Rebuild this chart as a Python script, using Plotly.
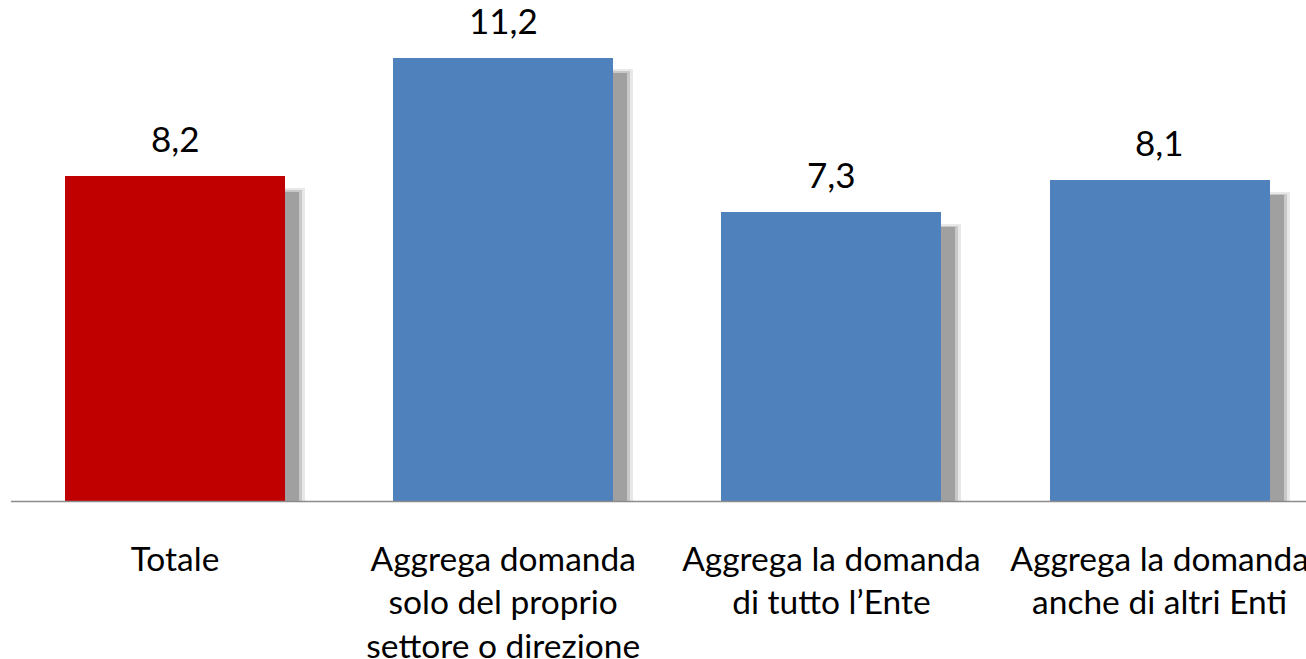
import plotly.graph_objects as go

categories = ["Totale",
              "Aggrega domanda<br>solo del proprio<br>settore o direzione",
              "Aggrega la domanda<br>di tutto l\u2019Ente",
              "Aggrega la domanda<br>anche di altri Enti"]
values = [8.2, 11.2, 7.3, 8.1]
bar_colors = ["#C00000", "#4F81BD", "#4F81BD", "#4F81BD"]

PX_X = 328.2   # px per category
PX_Y = 39.64   # px per unit
BW = 0.67
x = list(range(len(categories)))

fig = go.Figure()

# soft shadow layers (lightest/widest first)
shadow_layers = [(20, 0.30, "#e8e8e8"), (17, 0.34, "#c8c8c8"), (14, 0.38, "#a0a0a0")]
for ext, drop, col in shadow_layers:
    fig.add_trace(go.Bar(
        x=x, y=[v - drop for v in values],
        width=BW, offset=-BW / 2 + ext / PX_X,
        marker=dict(color=col, line=dict(width=0)),
        hoverinfo="skip", showlegend=False))

fig.add_trace(go.Bar(
    x=x, y=values, width=BW, offset=-BW / 2,
    marker=dict(color=bar_colors, line=dict(width=0)),
    showlegend=False))

for xi, v in zip(x, values):
    fig.add_annotation(x=xi, y=v, xref="x", yref="y",
                       text=f"{v:.1f}".replace(".", ","),
                       showarrow=False, yanchor="bottom", yshift=15,
                       font=dict(family="Lato", size=35, color="#000000"))

fig.add_shape(type="line", xref="x", yref="y",
              x0=-0.5, x1=3.6, y0=0, y1=0,
              line=dict(color="#8c8c8c", width=1.5))

W, H = 1306, 659
plot_bottom = 510
ymin = -(plot_bottom - 501.5) / PX_Y
ymax = 501.5 / PX_Y
xmin = -175 / PX_X
xmax = (W - 175) / PX_X

fig.update_layout(
    width=W, height=H,
    margin=dict(l=0, r=0, t=0, b=H - plot_bottom, autoexpand=False),
    paper_bgcolor="white", plot_bgcolor="white",
    barmode="overlay", bargap=0,
    font=dict(family="Lato", size=33.5, color="#000000"),
    xaxis=dict(range=[xmin, xmax], tickvals=x, ticktext=categories,
               showgrid=False, zeroline=False, showline=False,
               ticks="", ticklabelstandoff=26, automargin=False,
               ticklabeloverflow="allow",
               tickfont=dict(family="Lato", size=33.5, color="#000000")),
    yaxis=dict(range=[ymin, ymax], visible=False, showgrid=False,
               zeroline=False, automargin=False),
)

fig.write_html("out.html", config={"displayModeBar": False},
               post_script="document.body.style.margin='0';document.body.style.overflow='hidden';")
